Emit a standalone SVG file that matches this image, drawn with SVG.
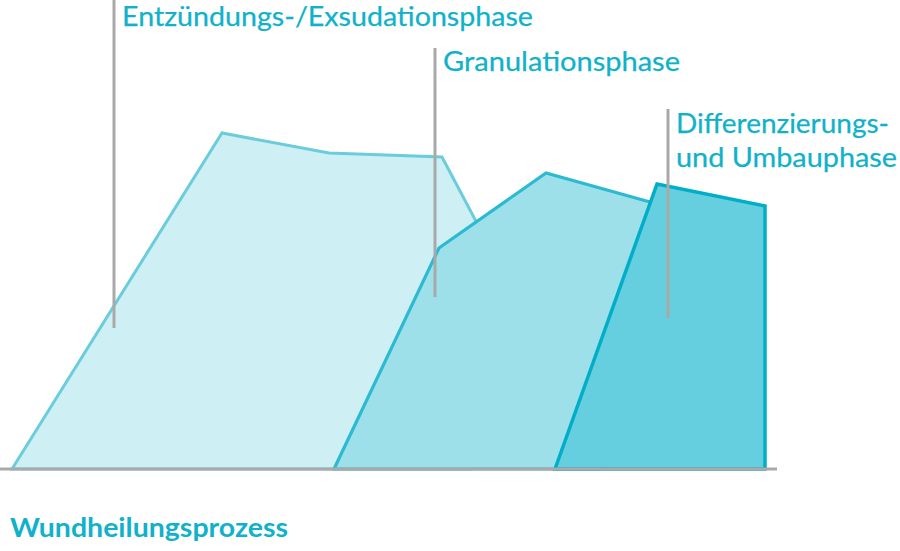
<svg xmlns="http://www.w3.org/2000/svg" width="900" height="551" viewBox="0 0 900 551">
<style>
.lbl{font-family:"Lato","Liberation Sans",sans-serif;font-size:27px;fill:#10B1CA;stroke:#10B1CA;stroke-width:0.25}
.ttl{font-family:"Lato","Liberation Sans",sans-serif;font-size:26px;font-weight:bold;fill:#10B1CA}
.tick{stroke:#A9A9A9;stroke-width:3;fill:none}
.p1{fill:#CEEFF4;stroke:#6BCDDB;stroke-width:3;stroke-linejoin:miter}
.p2{fill:#9DE0EA;stroke:#2BBAD1;stroke-width:3.2}
.p3{fill:#66CFDF;stroke:#00AEC8;stroke-width:3.5}
</style>
<rect width="900" height="551" fill="#FFFFFF"/>
<g id="phase-inflammation">
<polygon class="p1" points="12,469 222,133 329,153 442,157 478,225 470,469"/>
</g>
<g id="phase-granulation">
<polygon class="p2" points="334,469 439,248 546,173 650,202 660,205 600,469"/>
</g>
<g id="phase-remodeling">
<polygon class="p3" points="555,469 657,184 765,206 765,469"/>
</g>
<g id="connectors">
<line class="tick" x1="0" y1="469" x2="777" y2="469"/>
<line class="tick" x1="114" y1="0" x2="114" y2="328"/>
<line class="tick" x1="435" y1="48" x2="435" y2="297"/>
<line class="tick" x1="668" y1="109" x2="668" y2="318"/>
</g>
<g id="labels">
<text class="lbl" x="122" y="26" textLength="411" lengthAdjust="spacingAndGlyphs">Entzündungs-/Exsudationsphase</text>
<text class="lbl" x="443" y="71" textLength="237" lengthAdjust="spacingAndGlyphs">Granulationsphase</text>
<text class="lbl" x="676" y="133" textLength="213" lengthAdjust="spacingAndGlyphs">Differenzierungs-</text>
<text class="lbl" x="676" y="167" textLength="221" lengthAdjust="spacingAndGlyphs">und Umbauphase</text>
<text class="ttl" x="10" y="537" textLength="278" lengthAdjust="spacingAndGlyphs">Wundheilungsprozess</text>
</g>
</svg>
